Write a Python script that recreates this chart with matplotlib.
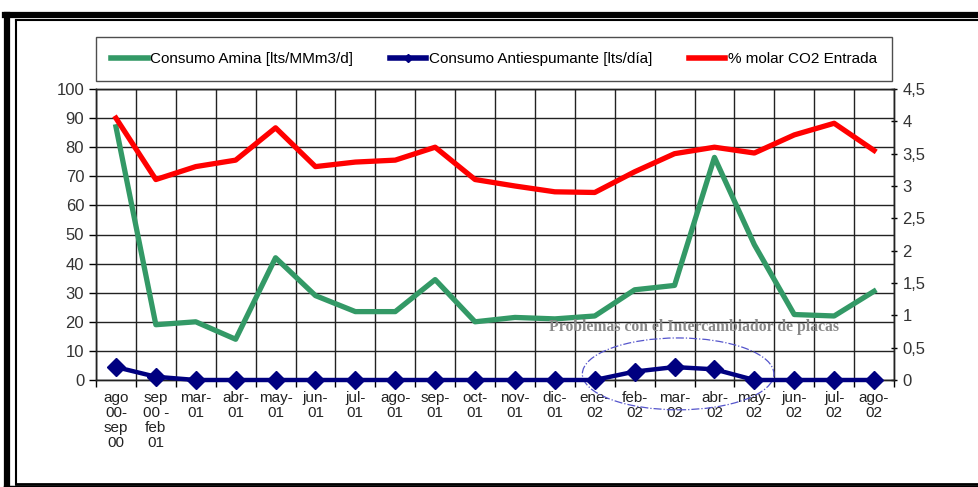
import matplotlib.pyplot as plt
from matplotlib.patches import Ellipse
from matplotlib.lines import Line2D

plt.rcParams['font.family'] = ['Liberation Sans', 'DejaVu Sans']

# categories (x axis)
periods = ['ago\n00-\nsep\n00', 'sep\n00 -\nfeb\n01', 'mar-\n01', 'abr-\n01', 'may-\n01',
           'jun-\n01', 'jul-\n01', 'ago-\n01', 'sep-\n01', 'oct-\n01', 'nov-\n01', 'dic-\n01',
           'ene-\n02', 'feb-\n02', 'mar-\n02', 'abr-\n02', 'may-\n02', 'jun-\n02', 'jul-\n02', 'ago-\n02']

# left axis
amina = [87, 19, 20, 14, 42, 29, 23.5, 23.5, 34.5, 20, 21.5, 21, 22, 31, 32.5, 76.5, 46.5, 22.5, 22, 30.5]
# right axis
antiespumante = [0.2, 0.05, 0, 0, 0, 0, 0, 0, 0, 0, 0, 0, 0, 0.13, 0.2, 0.165, 0, 0, 0, 0]
co2 = [4.05, 3.1, 3.3, 3.4, 3.9, 3.3, 3.37, 3.4, 3.6, 3.1, 3.0, 2.91, 2.9, 3.22, 3.5, 3.6, 3.51, 3.79, 3.97, 3.55]

left_ticks = [0, 10, 20, 30, 40, 50, 60, 70, 80, 90, 100]
right_ticks = [0, 0.5, 1, 1.5, 2, 2.5, 3, 3.5, 4, 4.5]
right_labels = ['0', '0,5', '1', '1,5', '2', '2,5', '3', '3,5', '4', '4,5']

fig = plt.figure(figsize=(9.79, 4.87), dpi=100)
ax = fig.add_axes([96/979, 1-380/487, (894-96)/979, (380-89)/487])
ax2 = ax.twinx()

x = list(range(len(periods)))

ax.plot(x, amina, color='#339966', lw=3.8, zorder=3)
ax2.plot(x, antiespumante, color='#000080', lw=3.2, marker='D', markersize=9.5, clip_on=False, zorder=4)
ax2.plot(x, co2, color='#ff0000', lw=3.8, zorder=3)

ax.set_xlim(-0.5, len(periods) - 0.5)
ax.set_ylim(0, 100)
ax2.set_ylim(0, 4.5)

ax.set_xticks(x)
ax.set_xticklabels(periods, fontsize=11, linespacing=1.1, color='#222222')
ax.tick_params(axis='x', which='major', length=0, pad=8)
ax.set_xticks([i - 0.5 for i in range(len(periods) + 1)], minor=True)
ax.tick_params(axis='x', which='minor', length=5, width=1, direction='out')
ax.grid(True, which='minor', axis='x', color='#222222', lw=1)

ax.set_yticks(left_ticks)
ax.tick_params(axis='y', labelsize=12, labelcolor='#333333', length=5, width=1)
ax.grid(True, which='major', axis='y', color='#222222', lw=1)
ax.set_axisbelow(True)

ax2.set_yticks(right_ticks)
ax2.set_yticklabels(right_labels)
ax2.tick_params(axis='y', labelsize=12, labelcolor='#333333', length=5, width=1, direction='inout')

for a in (ax, ax2):
    for s in a.spines.values():
        s.set_color('#222222')
        s.set_linewidth(1)

# annotation
ax.text(14.48, 18.2, 'Problemas con el Intercambiador de placas', ha='center', va='center',
        fontsize=11.3, fontweight='bold', color='#888888', family=['Liberation Serif', 'DejaVu Serif'], zorder=5)
ax.add_patch(Ellipse((14.09, 2.1), 4.8, 24.7, fill=False, edgecolor='#5555cc', lw=0.9,
                     linestyle='-.', clip_on=False, zorder=5))

# legend
handles = [Line2D([], [], color='#339966', lw=4),
           Line2D([], [], color='#000080', lw=4, marker='D', markersize=4),
           Line2D([], [], color='#ff0000', lw=4)]
labels = ['Consumo Amina [lts/MMm3/d]', 'Consumo Antiespumante [lts/día]', '% molar CO2 Entrada']
leg = fig.legend(handles, labels, loc='center', ncol=3, fontsize=11, frameon=True,
                 bbox_to_anchor=(494/979, 1-59/487), handlelength=2.4, handletextpad=0.15,
                 columnspacing=2.4, borderpad=1.0, borderaxespad=0, fancybox=False)
leg.get_frame().set_edgecolor('#222222')
leg.get_frame().set_linewidth(1)

# outer frame
W, H = 979, 487
fig.add_artist(Line2D([7/W, 7/W], [1-15/H, 0], color='black', lw=4.5, transform=fig.transFigure))
fig.add_artist(Line2D([5/W, 1], [1-14.5/H, 1-14.5/H], color='black', lw=4.5, transform=fig.transFigure))
fig.add_artist(Line2D([15.5/W, 15.5/W], [1-20/H, 1-484/H], color='black', lw=1.5, transform=fig.transFigure))
fig.add_artist(Line2D([15.5/W, 1], [1-20/H, 1-20/H], color='black', lw=1.5, transform=fig.transFigure))
fig.add_artist(Line2D([15.5/W, 1], [1-484/H, 1-484/H], color='black', lw=2, transform=fig.transFigure))
fig.add_artist(Line2D([5/W, 1], [1-486.5/H, 1-486.5/H], color='black', lw=2.5, transform=fig.transFigure))

fig.savefig('out.png', dpi=100)
